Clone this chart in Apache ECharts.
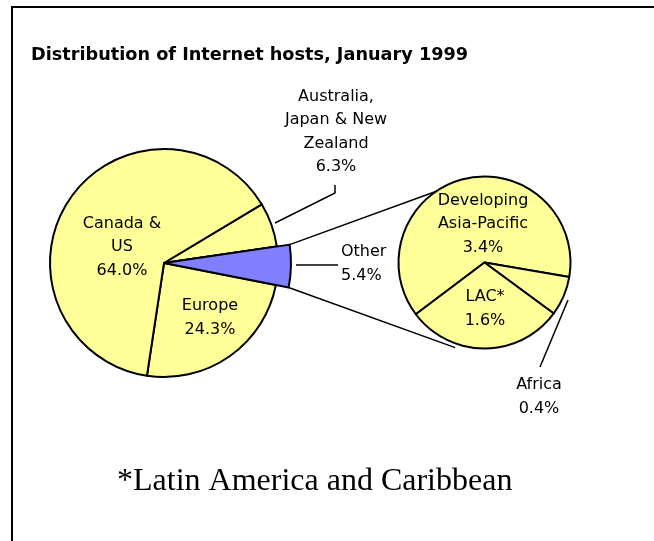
<!DOCTYPE html>
<html>
<head>
<meta charset="utf-8">
<script src="https://cdn.jsdelivr.net/npm/echarts@6/dist/echarts.min.js"></script>
<style>
  html, body { margin: 0; padding: 0; background: #fff; }
  #chart { width: 654px; height: 541px; }
</style>
</head>
<body>
<div id="chart"></div>
<script>
// main pie, clockwise from the Canada/Australia boundary
const mainNames = ['Australia,\nJapan & New\nZealand', 'Other', 'Europe', 'Canada &\nUS'];
const mainValues = [6.3, 5.4, 24.3, 64.0];
// "Other" broken down
const subNames = ['Developing\nAsia-Pacific', 'Africa', 'LAC*'];
const subValues = [3.4, 0.4, 1.6];

const YELLOW = '#ffff99';
const BLUE = '#8080ff';
const FONT = 'DejaVu Sans';

// layout
const mainCenter = [164, 263], mainR = 114, otherR = 127, mainStart = 31;
const subCenter = [484.5, 262.5], subR = 86, subStart = 217;
const mainLabelPos = [[336, 132], [341, 264], [210, 318], [122, 247]];
const subLabelPos = [[483, 224], [539, 397], [485, 309]];
const mainLines = { 0: [[275, 223], [335, 193], [335, 185]], 1: [[296, 265], [338, 265]] };
const subLines = { 1: [[568, 300], [540, 367]] };

const fmt = p => p.name + '\n' + p.value.toFixed(1) + '%';
const labelStyle = { color: '#000', fontFamily: FONT, fontSize: 16, lineHeight: 23.5 };

const total = mainValues.reduce((a, b) => a + b, 0);

// corners of the blue wedge, from the slice angles
const otherA0 = (mainStart - mainValues[0] / total * 360) * Math.PI / 180;
const otherA1 = otherA0 - mainValues[1] / total * 2 * Math.PI;
const pt = (c, r, a) => [c[0] + r * Math.cos(a), c[1] - r * Math.sin(a)];
const cTop = pt(mainCenter, otherR, otherA0);
const cBot = pt(mainCenter, otherR, otherA1);
const sTop = pt(subCenter, subR, 124 * Math.PI / 180);
const sBot = pt(subCenter, subR + 4, 251 * Math.PI / 180);

const chart = echarts.init(document.getElementById('chart'));

const option = {
  animation: false,
  title: {
    text: 'Distribution of Internet hosts, January 1999',
    left: 31, top: 46, padding: 0,
    textStyle: { fontFamily: FONT, fontWeight: 'bold', fontSize: 17.7, color: '#000' }
  },
  graphic: [
    { type: 'rect', shape: { x: 12, y: 7, width: 700, height: 600 },
      style: { fill: 'none', stroke: '#000', lineWidth: 2 }, silent: true },
    { type: 'line', shape: { x1: cTop[0], y1: cTop[1], x2: sTop[0], y2: sTop[1] },
      style: { stroke: '#000', lineWidth: 1.5 }, silent: true },
    { type: 'line', shape: { x1: cBot[0], y1: cBot[1], x2: sBot[0], y2: sBot[1] },
      style: { stroke: '#000', lineWidth: 1.5 }, silent: true },
    { type: 'text', x: 117, y: 482,
      style: { text: '*Latin America and Caribbean', fontFamily: 'Liberation Serif',
        fontSize: 32, fill: '#000', verticalAlign: 'middle' }, silent: true }
  ],
  series: [
    {
      type: 'pie',
      center: mainCenter, radius: mainR,
      startAngle: mainStart, clockwise: true,
      avoidLabelOverlap: false,
      emphasis: { disabled: true },
      itemStyle: { borderColor: '#000', borderWidth: 2 },
      data: mainValues.map((v, i) => ({
        name: mainNames[i], value: v,
        itemStyle: { color: i === 1 ? BLUE : YELLOW },
        label: { show: i !== 1, position: i === 0 ? 'outside' : 'inside' },
        labelLine: { show: i === 0, lineStyle: { color: '#000', width: 1.5 } }
      })),
      label: Object.assign({ formatter: fmt }, labelStyle),
      labelLayout: p => {
        const pos = mainLabelPos[p.dataIndex];
        const o = { x: pos[0], y: pos[1], align: 'center', verticalAlign: 'middle' };
        if (p.dataIndex === 0) o.labelLinePoints = mainLines[0];
        return o;
      }
    },
    {
      // exploded blue "Other" wedge drawn on top
      type: 'pie',
      center: mainCenter, radius: otherR,
      startAngle: mainStart, clockwise: true,
      avoidLabelOverlap: false,
      emphasis: { disabled: true },
      silent: true,
      data: mainValues.map((v, i) => ({
        name: i === 1 ? 'Other' : mainNames[i], value: v,
        itemStyle: i === 1
          ? { color: BLUE, borderColor: '#000', borderWidth: 2 }
          : { color: 'transparent', borderWidth: 0 },
        label: { show: i === 1, position: 'outside' },
        labelLine: { show: i === 1, lineStyle: { color: '#000', width: 1.5 } }
      })),
      label: Object.assign({ formatter: fmt }, labelStyle),
      labelLayout: p => {
        const pos = mainLabelPos[p.dataIndex];
        return { x: pos[0], y: pos[1], align: 'left', verticalAlign: 'middle',
          labelLinePoints: mainLines[1] };
      }
    },
    {
      type: 'pie',
      center: subCenter, radius: subR,
      startAngle: subStart, clockwise: true,
      avoidLabelOverlap: false,
      emphasis: { disabled: true },
      itemStyle: { color: YELLOW, borderColor: '#000', borderWidth: 2 },
      data: subValues.map((v, i) => ({
        name: subNames[i], value: v,
        label: { position: i === 1 ? 'outside' : 'inside' },
        labelLine: { show: i === 1, lineStyle: { color: '#000', width: 1.5 } }
      })),
      label: Object.assign({ formatter: fmt }, labelStyle),
      labelLayout: p => {
        const pos = subLabelPos[p.dataIndex];
        const o = { x: pos[0], y: pos[1], align: 'center', verticalAlign: 'middle' };
        if (subLines[p.dataIndex]) o.labelLinePoints = subLines[p.dataIndex];
        return o;
      }
    }
  ]
};

chart.setOption(option);
</script>
</body>
</html>
